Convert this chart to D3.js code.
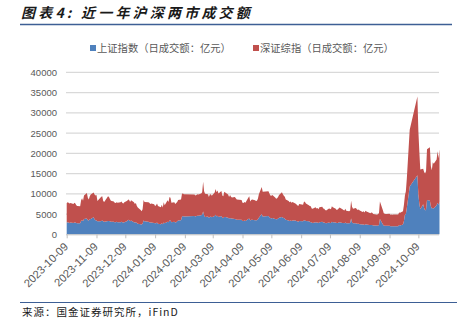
<!DOCTYPE html>
<html>
<head>
<meta charset="utf-8">
<script src="https://cdn.jsdelivr.net/npm/d3@7/dist/d3.min.js"></script>
<style>
  html, body { margin: 0; padding: 0; background: #ffffff; }
  svg { display: block; }
</style>
</head>
<body>
<svg id="chart" width="457" height="324"></svg>
<script>
// Trading days, grouped by month
const tradingMonths = [
  ["2023-10", [9,10,11,12,13,16,17,18,19,20,23,24,25,26,27,30,31]],
  ["2023-11", [1,2,3,6,7,8,9,10,13,14,15,16,17,20,21,22,23,24,27,28,29,30]],
  ["2023-12", [1,4,5,6,7,8,11,12,13,14,15,18,19,20,21,22,25,26,27,28,29]],
  ["2024-01", [2,3,4,5,8,9,10,11,12,15,16,17,18,19,22,23,24,25,26,29,30,31]],
  ["2024-02", [1,2,5,6,7,8,19,20,21,22,23,26,27,28,29]],
  ["2024-03", [1,4,5,6,7,8,11,12,13,14,15,18,19,20,21,22,25,26,27,28,29]],
  ["2024-04", [1,2,3,8,9,10,11,12,15,16,17,18,19,22,23,24,25,26,29,30]],
  ["2024-05", [6,7,8,9,10,13,14,15,16,17,20,21,22,23,24,27,28,29,30,31]],
  ["2024-06", [3,4,5,6,7,11,12,13,14,17,18,19,20,21,24,25,26,27,28]],
  ["2024-07", [1,2,3,4,5,8,9,10,11,12,15,16,17,18,19,22,23,24,25,26,29,30,31]],
  ["2024-08", [1,2,5,6,7,8,9,12,13,14,15,16,19,20,21,22,23,26,27,28,29,30]],
  ["2024-09", [2,3,4,5,6,9,10,11,12,13,18,19,20,23,24,25,26,27,30]],
  ["2024-10", [8,9,10,11,14,15,16,17,18,21,22,23,24,25,28,29,30,31]]
];

// 上证指数 daily turnover (亿元)
const shTurnover = [
  2900,3000,2900,2800,2900,2800,2900,2900,2800,2700,2700,3300,3500,3200,3800,3900,3500,
  3400,3700,3800,4200,3700,3500,3400,3200,3200,3300,3400,3200,3100,3200,3300,3300,3200,3100,3100,3000,3000,3100,
  3000,3000,3100,3000,2900,3000,3300,3600,3500,3200,3400,3000,2900,3000,2800,2600,2500,2400,2600,3400,3200,
  3100,3000,2900,2900,2800,2700,2700,2900,2600,2500,2700,2500,2900,2700,3100,3000,3400,3400,3000,3100,2900,3000,
  3200,3400,3500,4400,4500,4400,4500,4400,4500,4600,4600,4700,4900,5600,4700,
  4300,4400,4100,4300,4400,4200,4500,4800,4400,4600,4300,4500,4100,4000,4300,4300,4100,3900,4000,3900,3900,
  3800,3700,3600,3600,3300,3300,3400,3300,3800,3900,3400,3600,3600,3500,3500,3500,3700,4100,5000,4400,
  4500,4200,4000,3900,4000,3800,3700,3700,3900,4100,4300,4100,4000,3900,3600,3400,3300,3400,3300,3400,
  3400,3300,3200,3100,3300,3200,3500,3400,3300,3200,3100,3000,2900,2800,3000,2900,2900,2800,3000,
  3100,2900,2900,2800,2700,2900,2800,2800,3100,3000,2900,2800,2800,2900,3000,2800,2800,2700,2900,2700,2700,2800,3900,
  2900,2700,2700,2600,2600,2600,2500,2400,2400,2300,2500,2400,2300,2300,2300,2300,2200,2200,2100,2200,2300,3800,
  2500,2200,2100,2100,2100,2100,2000,2000,2000,2000,2000,2300,2200,2400,3300,4800,5000,6500,11800,
  14600,9800,7600,6200,7400,6500,5900,6100,8500,8300,6900,6400,6500,6400,7200,7800,7300,8000
];

// 深证综指 daily turnover (亿元)
const szTurnover = [
  4800,4900,4900,4800,4800,4700,4900,4700,4400,4300,4200,5100,5400,5100,5800,6300,5500,
  5200,5700,6000,6100,6100,6100,6300,5000,5800,6000,6000,5000,4900,5800,6100,5900,5500,5200,5000,4800,4700,4800,
  4800,4900,5000,4700,4700,4900,5000,5000,5000,4800,5000,4900,4600,4700,4200,4000,3500,3300,3600,5100,4800,
  4800,4800,4600,4700,4600,4300,4500,4700,4400,4200,4600,4100,5000,4500,5300,5000,5800,5600,4800,4800,4600,4700,
  4800,5100,5100,5600,5600,5500,5300,5200,5200,5300,5200,5400,5500,7400,5900,
  5700,5500,5100,5500,5500,5300,5800,6400,6000,6200,5800,6200,5500,5400,6200,6000,5700,5300,5700,5400,5200,
  5400,5200,5000,4900,4500,4400,4600,4500,5200,5500,4700,4900,5000,4900,4700,4800,5100,5800,6700,6100,
  6100,5900,5600,5600,5700,5300,5100,5200,5300,5600,6100,5800,5500,5400,5000,4800,4600,4700,4500,4600,
  4200,4100,4000,3900,4200,4100,4600,4600,4300,4000,3900,3900,3500,3500,3700,3500,3600,3400,3700,
  3700,3500,3400,3200,3200,3500,3500,3400,3800,3700,3400,3200,3300,3500,3600,3400,3200,3200,3400,3100,3000,3100,4400,
  3900,3600,3800,3600,3400,3500,3400,3100,3300,3100,3300,3200,3000,2900,3100,3000,2800,2700,2700,2800,2900,4300,
  3500,3000,3000,2900,2900,3000,2800,2900,2800,2900,2900,3100,3100,3300,4000,4800,5600,7300,14000,
  19400,15700,12900,9800,8800,8900,9100,9500,12500,13200,9900,9400,11300,11000,11300,12700,11500,13000
];

const seriesNames = ["上证指数（日成交额：亿元）", "深证综指（日成交额：亿元）"];
const seriesColors = ["#4f81bd", "#c0504d"];
const yTicks = [0, 5000, 10000, 15000, 20000, 25000, 30000, 35000, 40000];
const xTickLabels = ["2023-10-09","2023-11-09","2023-12-09","2024-01-09","2024-02-09","2024-03-09",
  "2024-04-09","2024-05-09","2024-06-09","2024-07-09","2024-08-09","2024-09-09","2024-10-09"];
const titleText = "图表4: 近一年沪深两市成交额";
const sourceText = "来源：国金证券研究所，iFinD";

const parse = d3.timeParse("%Y-%m-%d");
const fmt = d3.timeFormat("%Y-%m-%d");
const dates = tradingMonths.flatMap(([m, days]) =>
  days.map(d => parse(`${m}-${String(d).padStart(2, "0")}`)));

const rows = dates.map((date, i) => ({ date, sh: shTurnover[i], sz: szTurnover[i] }));

const svg = d3.select("#chart");
const cjk = "'Noto Sans CJK SC', 'Noto Sans', sans-serif";
const latin = "'Liberation Sans', Arial, sans-serif";

// Header
svg.append("text")
  .attr("x", 21).attr("y", 18)
  .attr("font-family", cjk)
  .attr("font-size", 14)
  .attr("font-weight", "bold")
  .attr("font-style", "italic")
  .attr("letter-spacing", 3.2)
  .attr("fill", "#1a1a1a")
  .text(titleText);

svg.append("line")
  .attr("x1", 20).attr("x2", 452).attr("y1", 24.5).attr("y2", 24.5)
  .attr("stroke", "#3d5f95").attr("stroke-width", 1.6);

// Scales
const x = d3.scaleTime()
  .domain([dates[0], dates[dates.length - 1]])
  .range([66.7, 439.5]);
const y = d3.scaleLinear().domain([0, 40000]).range([234.3, 72.3]);

// Gridlines
svg.append("g")
  .selectAll("line")
  .data(yTicks.filter(v => v > 0))
  .join("line")
  .attr("x1", 66).attr("x2", 439)
  .attr("y1", d => y(d)).attr("y2", d => y(d))
  .attr("stroke", "#d9d9d9").attr("stroke-width", 1.2);

// Stacked areas
const stack = d3.stack().keys(["sh", "sz"]);
const layers = stack(rows);
const area = d3.area()
  .x(d => x(d.data.date))
  .y0(d => y(d[0]))
  .y1(d => y(d[1]));

svg.append("g")
  .selectAll("path")
  .data(layers)
  .join("path")
  .attr("fill", (d, i) => seriesColors[i])
  .attr("d", area);

// Y axis labels
const yAxis = d3.axisLeft(y).tickValues(yTicks).tickSize(0).tickPadding(0).tickFormat(d3.format("d"));
const yg = svg.append("g").attr("transform", "translate(57,0)").call(yAxis);
yg.select(".domain").remove();
yg.selectAll("text")
  .attr("font-family", latin)
  .attr("font-size", 9.5)
  .attr("fill", "#595959");

// X axis
const xAxis = d3.axisBottom(x)
  .tickValues(xTickLabels.map(parse))
  .tickSize(4)
  .tickFormat(fmt);
const xg = svg.append("g").attr("transform", "translate(0,234.3)").call(xAxis);
xg.select(".domain")
  .attr("d", "M66,0.5H439")
  .attr("stroke", "#bfbfbf");
xg.selectAll(".tick line").attr("stroke", "#bfbfbf");
xg.selectAll(".tick text")
  .attr("font-family", latin)
  .attr("font-size", 11.2)
  .attr("fill", "#595959")
  .attr("text-anchor", "end")
  .attr("dy", 0)
  .attr("transform", "translate(-4,7.5) rotate(-45)")
  .attr("y", 8)
  .attr("x", 0);

// Legend
const legendX = [90, 253];
const legend = svg.append("g");
seriesNames.forEach((name, i) => {
  legend.append("rect")
    .attr("x", legendX[i]).attr("y", 45)
    .attr("width", 6).attr("height", 6)
    .attr("fill", seriesColors[i]);
  legend.append("text")
    .attr("x", legendX[i] + 7).attr("y", 52)
    .attr("font-family", cjk)
    .attr("font-size", 10.3)
    .attr("fill", "#595959")
    .text(name);
});

// Footer
svg.append("line")
  .attr("x1", 20).attr("x2", 457).attr("y1", 302.5).attr("y2", 302.5)
  .attr("stroke", "#3d5f95").attr("stroke-width", 1.2);

svg.append("text")
  .attr("x", 22).attr("y", 316)
  .attr("font-family", cjk)
  .attr("font-size", 10.5)
  .attr("letter-spacing", 1)
  .attr("fill", "#1a1a1a")
  .text(sourceText);
</script>
</body>
</html>
